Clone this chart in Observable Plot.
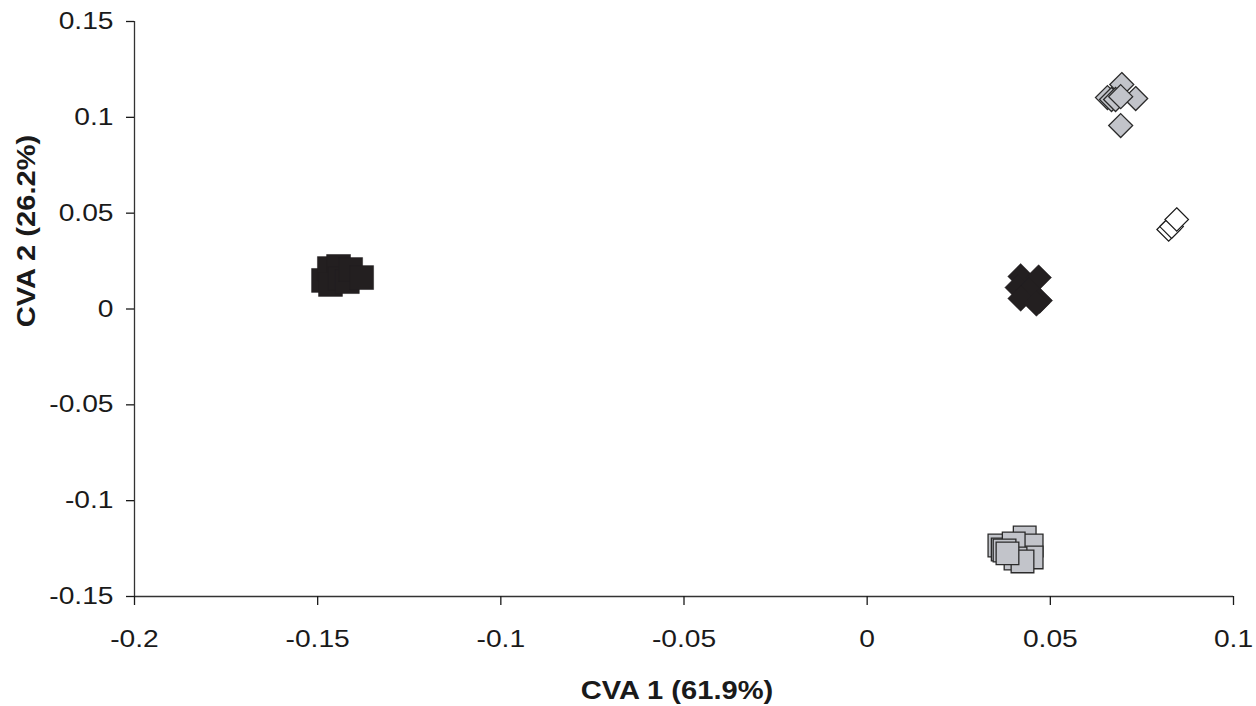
<!DOCTYPE html>
<html>
<head>
<meta charset="utf-8">
<script src="https://cdn.jsdelivr.net/npm/d3@7"></script>
<script src="https://cdn.jsdelivr.net/npm/@observablehq/plot@0.6"></script>
<style>
  html, body { margin: 0; padding: 0; background: #fff; }
  #chart { width: 1256px; height: 706px; }
</style>
</head>
<body>
<div id="chart"></div>
<script>
// Canonical variate scores, one pair of arrays per group
const groupA_cva1 = [-0.1484, -0.1468, -0.1443, -0.1465, -0.1438, -0.1419, -0.1410, -0.1380];
const groupA_cva2 = [0.0149, 0.0211, 0.0222, 0.0128, 0.0159, 0.0143, 0.0206, 0.0164];

const groupB_cva1 = [0.0419, 0.0468, 0.0411, 0.0441, 0.0419, 0.0471, 0.0462];
const groupB_cva2 = [0.0170, 0.0164, 0.0112, 0.0097, 0.0055, 0.0044, 0.0029];

const groupC_cva1 = [0.0430, 0.0449, 0.0449, 0.0361, 0.0370, 0.0400, 0.0405, 0.0424, 0.0375, 0.0383];
const groupC_cva2 = [-0.1192, -0.1234, -0.1296, -0.1234, -0.1255, -0.1223, -0.1302, -0.1317, -0.1260, -0.1275];

const groupD_cva1 = [0.0695, 0.0733, 0.0656, 0.0667, 0.0678, 0.0692, 0.0692];
const groupD_cva2 = [0.1171, 0.1098, 0.1103, 0.1093, 0.1093, 0.1108, 0.0957];

const groupE_cva1 = [0.0823, 0.0831, 0.0845];
const groupE_cva2 = [0.0415, 0.0430, 0.0467];

// Axis ticks and their printed labels
const xTickValues = [-0.2, -0.15, -0.1, -0.05, 0, 0.05, 0.1];
const xTickLabels = ["-0.2", "-0.15", "-0.1", "-0.05", "0", "0.05", "0.1"];
const yTickValues = [-0.15, -0.1, -0.05, 0, 0.05, 0.1, 0.15];
const yTickLabels = ["-0.15", "-0.1", "-0.05", "0", "0.05", "0.1", "0.15"];

const xTitle = "CVA 1 (61.9%)";
const yTitle = "CVA 2 (26.2%)";

const rows = (xs, ys) => xs.map((x, i) => ({x, y: ys[i]}));

const ink = "#1a1a1a";
const FONT = "'Liberation Sans', Arial, Helvetica, sans-serif";

const chart = Plot.plot({
  width: 1256,
  height: 706,
  marginLeft: 134,
  marginRight: 23,
  marginTop: 21,
  marginBottom: 110,
  style: {fontFamily: FONT, fontSize: "23.5px", color: ink, background: "#fff"},
  x: {domain: [-0.2, 0.1]},
  y: {domain: [-0.15, 0.15]},
  marks: [
    Plot.ruleX([-0.2], {stroke: "#333", strokeWidth: 1.3}),
    Plot.ruleY([-0.15], {stroke: "#333", strokeWidth: 1.3}),
    Plot.axisX({
      ticks: xTickValues,
      tickFormat: d => xTickLabels[xTickValues.indexOf(d)],
      tickSize: 9,
      tickPadding: 25,
      strokeWidth: 1.3,
      label: null
    }),
    Plot.axisY({
      ticks: yTickValues,
      tickFormat: d => yTickLabels[yTickValues.indexOf(d)],
      tickSize: 8,
      tickPadding: 13,
      strokeWidth: 1.3,
      label: null
    }),
    // black squares
    Plot.dot(rows(groupA_cva1, groupA_cva2), {
      x: "x", y: "y", symbol: "square", r: 13.5,
      fill: "#231f20", stroke: "#231f20", strokeWidth: 0.5
    }),
    // black diamonds
    Plot.dot(rows(groupB_cva1, groupB_cva2), {
      x: "x", y: "y", symbol: "diamond2", r: 11.6,
      fill: "#231f20", stroke: "#231f20", strokeWidth: 0.5
    }),
    // grey squares
    Plot.dot(rows(groupC_cva1, groupC_cva2), {
      x: "x", y: "y", symbol: "square", r: 12.8,
      fill: "#c2c4ca", stroke: "#2a2a2a", strokeWidth: 1.3
    }),
    // grey diamonds
    Plot.dot(rows(groupD_cva1, groupD_cva2), {
      x: "x", y: "y", symbol: "diamond2", r: 10.8,
      fill: "#c2c4ca", stroke: "#2a2a2a", strokeWidth: 1.3
    }),
    // white diamonds
    Plot.dot(rows(groupE_cva1, groupE_cva2), {
      x: "x", y: "y", symbol: "diamond2", r: 10.6,
      fill: "#ffffff", stroke: "#1a1a1a", strokeWidth: 1.2
    }),
    // axis titles
    Plot.text([xTitle], {
      frameAnchor: "bottom", textAnchor: "middle", dx: -7, dy: 102,
      fontSize: 26, fontWeight: "bold", fill: ink
    }),
    Plot.text([yTitle], {
      frameAnchor: "left", textAnchor: "middle", rotate: -90, dx: -108, dy: -78,
      fontSize: 26, fontWeight: "bold", fill: ink
    })
  ]
});

document.getElementById("chart").appendChild(chart);

// Widen glyphs horizontally, pivoting on each label's own anchor point
function widenText(root) {
  root.querySelectorAll("text").forEach(t => {
    const isTitle = t.textContent === xTitle || t.textContent === yTitle;
    const k = isTitle ? 1.12 : 1.2;
    const box = t.getBBox();
    const anchor = getComputedStyle(t).textAnchor;
    const ax = anchor === "end" ? box.x + box.width
             : anchor === "middle" ? box.x + box.width / 2
             : box.x;
    const prev = t.getAttribute("transform") || "";
    t.setAttribute("transform",
      `${prev} translate(${ax},0) scale(${k},1) translate(${-ax},0)`.trim());
  });
}
widenText(chart);
</script>
</body>
</html>
